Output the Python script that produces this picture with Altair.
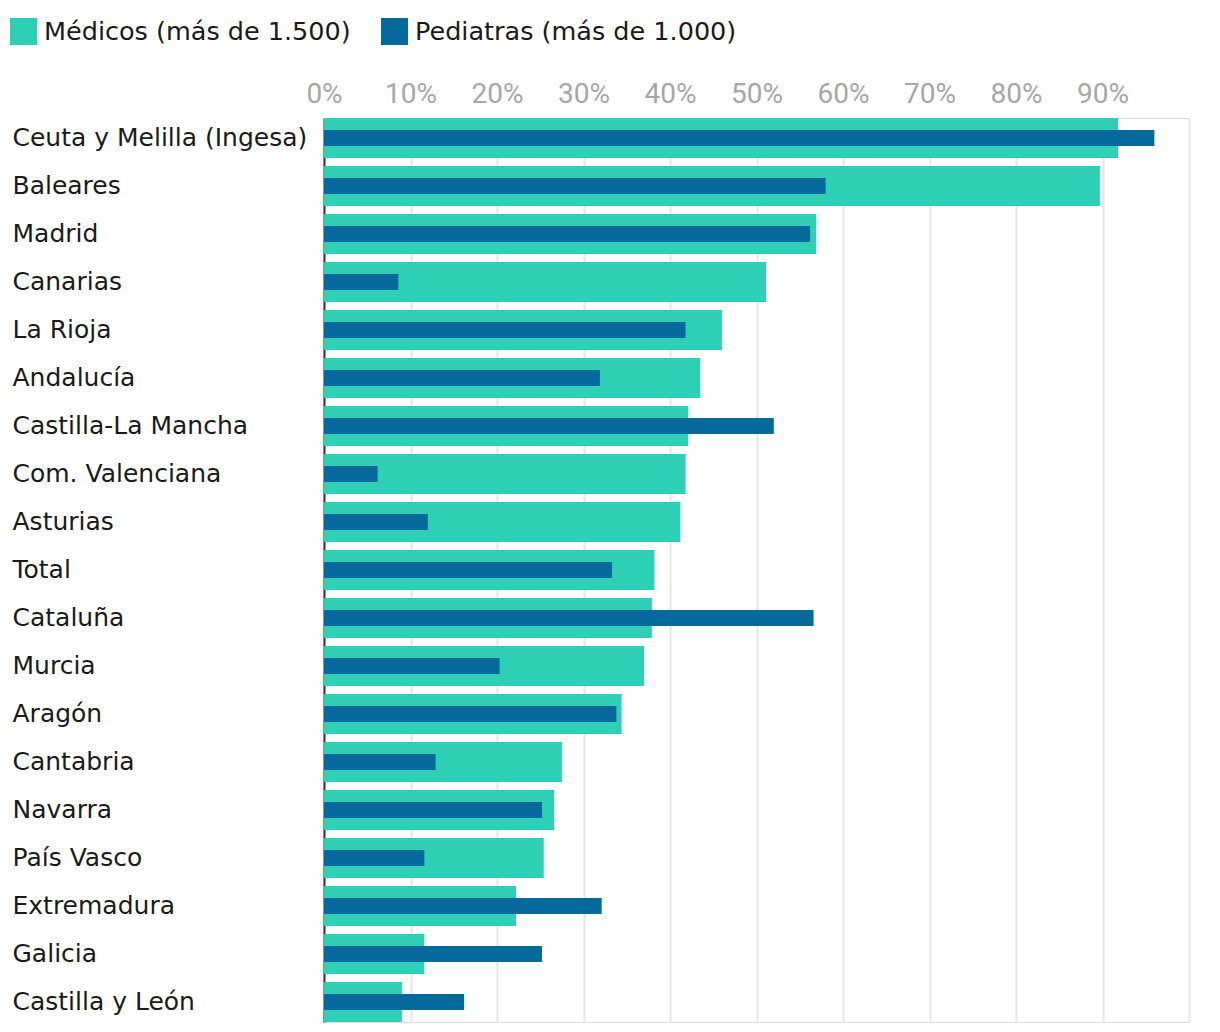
import altair as alt
import pandas as pd

regions = [
    "Ceuta y Melilla (Ingesa)", "Baleares", "Madrid", "Canarias", "La Rioja",
    "Andalucía", "Castilla-La Mancha", "Com. Valenciana", "Asturias", "Total",
    "Cataluña", "Murcia", "Aragón", "Cantabria", "Navarra", "País Vasco",
    "Extremadura", "Galicia", "Castilla y León",
]
medicos = [91.8, 89.7, 56.9, 51.1, 46.0, 43.5, 42.1, 41.8, 41.2, 38.2,
           37.9, 37.0, 34.4, 27.5, 26.6, 25.4, 22.2, 11.6, 9.0]
pediatras = [96.0, 58.0, 56.2, 8.6, 41.8, 31.9, 52.0, 6.2, 12.0, 33.3,
             56.6, 20.3, 33.8, 12.9, 25.2, 11.6, 32.1, 25.2, 16.2]
series = ["Médicos (más de 1.500)", "Pediatras (más de 1.000)"]
colors = ["#2dd0b5", "#05699b"]
tick_values = [0, 10, 20, 30, 40, 50, 60, 70, 80, 90, 100]

rows = []
for r, m, p in zip(regions, medicos, pediatras):
    rows.append({"region": r, "serie": series[0], "valor": m})
    rows.append({"region": r, "serie": series[1], "valor": p})
df = pd.DataFrame(rows)

LABEL_FONT = "DejaVu Sans"

x_enc = alt.X(
    "valor:Q",
    scale=alt.Scale(domain=[0, 100], nice=False),
    axis=alt.Axis(
        orient="top", title=None, values=tick_values,
        labelExpr="datum.value == 100 ? '' : datum.value + '%'",
        domain=False, ticks=False, grid=True, gridColor="#e6e6e6", gridWidth=2,
        labelColor="#a6a6a6", labelFont="Roboto", labelFontSize=28,
        labelBaseline="alphabetic", labelPadding=16, labelFlush=False,
    ),
)
y_enc = alt.Y(
    "region:N", sort=regions,
    scale=alt.Scale(paddingInner=8 / 48, paddingOuter=0),
    axis=alt.Axis(
        title=None, ticks=False, domain=True, domainColor="#333333", domainWidth=2,
        labelAlign="left", labelPadding=312, labelFont=LABEL_FONT, labelFontSize=25,
        labelColor="#1a1a1a", labelLimit=400, grid=False,
    ),
)
color_enc = alt.Color(
    "serie:N",
    scale=alt.Scale(domain=series, range=colors),
    legend=alt.Legend(
        title=None, orient="none", legendX=-314, legendY=-100, direction="horizontal",
        symbolType="square", symbolSize=729, symbolStrokeWidth=0, symbolOpacity=1,
        labelFont=LABEL_FONT, labelFontSize=25.5, labelColor="#1a1a1a",
        labelOffset=7, columnPadding=30, padding=0, labelLimit=500,
    ),
)

base = alt.Chart(df)
light = base.transform_filter(alt.datum.serie == series[0]).mark_bar().encode(
    x=x_enc, y=y_enc, color=color_enc
)
dark = base.transform_filter(alt.datum.serie == series[1]).mark_bar(size=16).encode(
    x=x_enc, y=y_enc, color=color_enc
)

chart = alt.layer(light, dark).properties(
    width=865, height=904,
    autosize=alt.AutoSizeParams(type="none"),
    padding={"left": 316, "top": 110, "right": 12, "bottom": 2},
).configure_view(strokeWidth=0, stroke="transparent").configure(background="white")

chart.save("out.html", embed_options={"renderer": "svg", "actions": False})
